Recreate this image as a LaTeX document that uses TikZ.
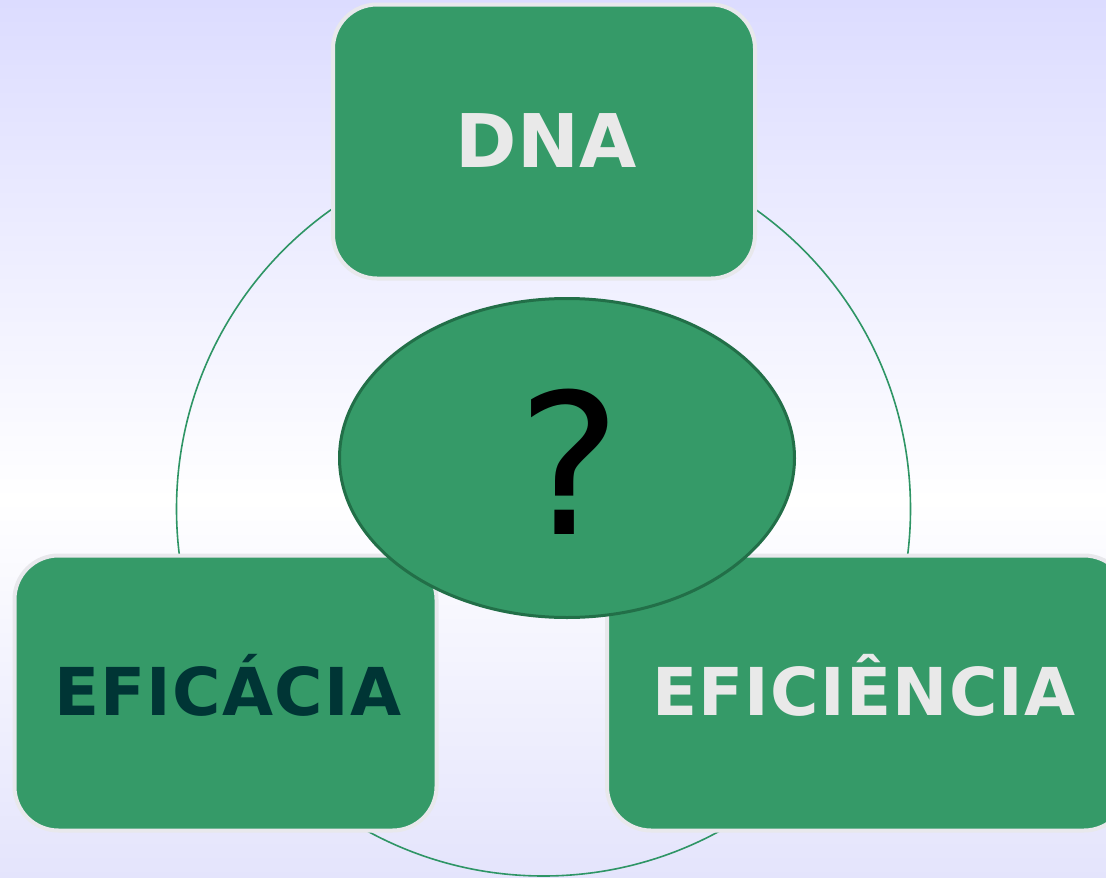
\documentclass[tikz,border=0pt]{standalone}
\usepackage{fontspec}
\setmainfont{DejaVu Sans}
\usetikzlibrary{shapes.geometric}
\definecolor{boxgreen}{HTML}{359A68}
\definecolor{ringgreen}{HTML}{2E9565}
\definecolor{ovalline}{HTML}{226F48}
\definecolor{rimgray}{HTML}{E8E8EC}
\definecolor{lighttext}{HTML}{E9E9E9}
\definecolor{darktext}{HTML}{003535}
\definecolor{bgtop}{HTML}{DCDCFF}
\definecolor{bgbot}{HTML}{E4E4FC}
\tikzset{
  card/.style={rectangle, rounded corners=44pt, fill=boxgreen, draw=rimgray,
    line width=4pt, inner sep=0pt, align=center},
  label/.style={inner sep=0pt, text depth=0pt},
  oval/.style={ellipse, fill=boxgreen, draw=ovalline, line width=3pt, inner sep=0pt},
  ring/.style={draw=ringgreen, line width=1.6pt}
}
\begin{document}
\begin{tikzpicture}[x=1pt,y=-1pt]
\useasboundingbox (0,0) rectangle (1106,878);
\shade[top color=bgtop, bottom color=white] (0,0) rectangle (1106,500);
\shade[top color=white, bottom color=bgbot] (0,500) rectangle (1106,878);
\coordinate (ringc) at (543.5,509);
\draw[ring] (ringc) circle[radius=367pt];
\node[card, minimum width=422pt, minimum height=274pt] (dna) at (544,141.5) {};
\node[label, text height=54pt, text=lighttext, font=\fontsize{74}{80}\selectfont\bfseries] (dnalabel) at (546,140) {DNA};
\node[card, minimum width=422pt, minimum height=275pt] (eficacia) at (225.5,693) {};
\node[label, text height=48pt, text=darktext, font=\fontsize{66}{72}\selectfont\bfseries\addfontfeature{LetterSpace=2}] (eficacialabel) at (228,691.5) {EFIC\'ACIA};
\node[card, minimum width=521pt, minimum height=275pt, anchor=west] (eficiencia) at (605,693) {};
\node[label, text height=48pt, text=lighttext, font=\fontsize{66}{72}\selectfont\bfseries\addfontfeature{LetterSpace=2}] (eficlabel) at (864,691.5) {EFICI\^ENCIA};
\node[oval, minimum width=455pt, minimum height=319pt] (q) at (567,458) {};
\node[label, text height=143pt, font=\fontsize{196}{200}\selectfont] (qmark) at (570,463) {?};
\end{tikzpicture}
\end{document}
